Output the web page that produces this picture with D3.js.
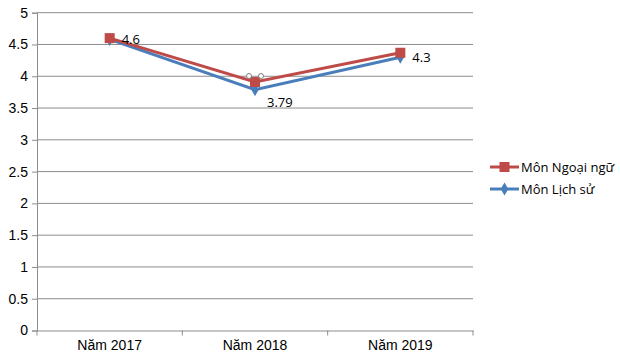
<!DOCTYPE html>
<html>
<head>
<meta charset="utf-8">
<script src="https://cdn.jsdelivr.net/npm/d3@7"></script>
<style>
  body { margin: 0; background: #fff; }
  svg { display: block; }
</style>
</head>
<body>
<div id="chart"></div>
<script>
const years = ['Năm 2017', 'Năm 2018', 'Năm 2019'];
const ngoaiNgu = [4.6, 3.91, 4.37];
const lichSu = [4.58, 3.79, 4.3];
const labels = ['4.6', '3.79', '4.3'];
const yTicks = [0, 0.5, 1, 1.5, 2, 2.5, 3, 3.5, 4, 4.5, 5];

const width = 620, height = 361;
const margin = { top: 12.7, right: 147, bottom: 30.5, left: 37 };
const innerW = width - margin.left - margin.right;
const innerH = height - margin.top - margin.bottom;

const svg = d3.select('#chart').append('svg')
  .attr('width', width).attr('height', height);
const g = svg.append('g')
  .attr('transform', 'translate(' + margin.left + ',' + margin.top + ')');

const x = d3.scaleBand().domain(years).range([0, innerW]);
const y = d3.scaleLinear().domain([0, 5]).range([innerH, 0]);

// grid
g.selectAll('.grid').data(yTicks.slice(1)).enter().append('line')
  .attr('x1', 0).attr('x2', innerW)
  .attr('y1', d => y(d)).attr('y2', d => y(d))
  .attr('stroke', '#8c8c8c').attr('stroke-width', 1);

// y axis
const yAxis = g.append('g').call(d3.axisLeft(y).tickValues(yTicks).tickSize(5).tickFormat(d3.format('')));
yAxis.select('.domain').attr('stroke', '#8c8c8c');
yAxis.selectAll('.tick line').attr('stroke', '#8c8c8c');
yAxis.selectAll('text').attr('font-family', 'Liberation Sans, Arial, sans-serif')
  .attr('font-size', 14).attr('fill', '#000').attr('x', -9);

// x axis
const xAxis = g.append('g').attr('transform', 'translate(0,' + innerH + ')')
  .call(d3.axisBottom(x).tickSize(0));
xAxis.select('.domain').attr('stroke', '#8c8c8c');
xAxis.selectAll('text').attr('font-family', 'Liberation Sans, Arial, sans-serif')
  .attr('font-size', 14).attr('fill', '#000').attr('dy', '1.15em');
g.selectAll('.xt').data([0, 1, 2, 3]).enter().append('line')
  .attr('x1', i => i * x.step()).attr('x2', i => i * x.step())
  .attr('y1', innerH).attr('y2', innerH + 5)
  .attr('stroke', '#8c8c8c');

const cx = d => x(d) + x.bandwidth() / 2;
const line = d3.line().x(d => cx(d[0])).y(d => y(d[1]));

const red = '#be4b48', blue = '#4a7ebb';

// blue series
g.append('path').datum(years.map((d, i) => [d, lichSu[i]]))
  .attr('d', line).attr('fill', 'none').attr('stroke', blue).attr('stroke-width', 3);
g.selectAll('.dia').data(years).enter().append('path')
  .attr('d', d3.symbol(d3.symbolDiamond, 50))
  .attr('transform', (d, i) => 'translate(' + cx(d) + ',' + y(lichSu[i]) + ')')
  .attr('fill', blue);

// red series
g.append('path').datum(years.map((d, i) => [d, ngoaiNgu[i]]))
  .attr('d', line).attr('fill', 'none').attr('stroke', red).attr('stroke-width', 3);
g.selectAll('.sq').data(years).enter().append('rect')
  .attr('x', d => cx(d) - 5).attr('y', (d, i) => y(ngoaiNgu[i]) - 5)
  .attr('width', 10).attr('height', 10).attr('fill', red);

// selection handles around 2018 point
const sx = cx(years[1]), sy = y(ngoaiNgu[1]);
g.selectAll('.hd').data([[-6, -6], [6, -6]]).enter().append('circle')
  .attr('cx', d => sx + d[0]).attr('cy', d => sy + d[1]).attr('r', 2.5)
  .attr('fill', '#fff').attr('stroke', '#7f7f7f').attr('stroke-width', 1);

// data labels
g.selectAll('.lbl').data(years).enter().append('text')
  .attr('x', d => cx(d) + 12)
  .attr('y', (d, i) => y(lichSu[i]) + (i === 1 ? 17 : 5))
  .attr('font-family', 'Open Sans, sans-serif').attr('font-size', 13)
  .attr('fill', '#000')
  .text((d, i) => labels[i]);

// legend
const legend = [['Môn Ngoại ngữ', red, 'sq'], ['Môn Lịch sử', blue, 'dia']];
const lg = svg.append('g').attr('transform', 'translate(490,167)');
legend.forEach((l, i) => {
  const row = lg.append('g').attr('transform', 'translate(0,' + (i * 22) + ')');
  row.append('line').attr('x1', 0).attr('x2', 29).attr('stroke', l[1]).attr('stroke-width', 3);
  if (l[2] === 'sq') {
    row.append('rect').attr('x', 9.5).attr('y', -5).attr('width', 10).attr('height', 10).attr('fill', l[1]);
  } else {
    row.append('path').attr('d', d3.symbol(d3.symbolDiamond, 50)).attr('transform', 'translate(14.5,0)').attr('fill', l[1]);
  }
  row.append('text').attr('x', 31).attr('y', 5)
    .attr('font-family', 'Open Sans, sans-serif').attr('font-size', 13)
    .attr('fill', '#000').text(l[0]);
});
</script>
</body>
</html>
